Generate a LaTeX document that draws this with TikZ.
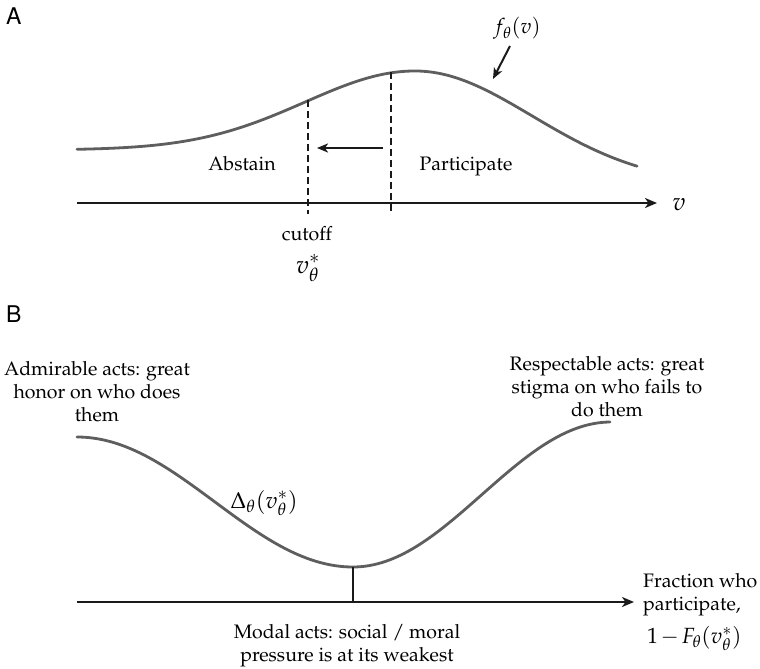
\documentclass[tikz,border=0pt]{standalone}
\usepackage[T1]{fontenc}
\usepackage{mathpazo}
\usepackage[scaled=0.92]{helvet}
\usetikzlibrary{arrows.meta}
\definecolor{curvegray}{HTML}{5E5E5E}
\definecolor{inkblack}{HTML}{1A1A1A}
\tikzset{
  txt/.style={inner sep=0pt, font=\fontsize{19.5}{23}\selectfont},
  mathbig/.style={inner sep=0pt, font=\fontsize{25}{30}\selectfont},
  mathmid/.style={inner sep=0pt, font=\fontsize{21}{25}\selectfont},
  panel/.style={inner sep=0pt, font=\fontsize{25}{30}\sffamily\selectfont},
  axis/.style={draw=inkblack, line width=2.2pt, -{Stealth[length=12pt,width=10pt,inset=3.5pt]}},
  curve/.style={draw=curvegray, line width=2.8pt, line cap=round},
  cutline/.style={draw=inkblack, line width=1.6pt, dash pattern=on 7pt off 4pt},
  pointer/.style={draw=inkblack, line width=2pt, -{Stealth[length=11pt,width=9pt,inset=3pt]}},
}
\begin{document}
\begin{tikzpicture}[x=1pt,y=-1pt]
\useasboundingbox (0,0) rectangle (760,669);
% ---------- Panel A ----------
\node[panel, anchor=base west] (labA) at (6,25) {A};
\coordinate (axAstart) at (77,203);
\coordinate (axAend) at (657,203);
\draw[axis] (axAstart) -- (axAend);
\node[mathbig, anchor=base] (vlab) at (679,210) {$v$};
\draw[curve] plot[domain=77:415, samples=90, smooth] (\x, {150-79*exp(-((\x-415)/110)^2/2)})
  -- plot[domain=415:637, samples=60, smooth] (\x, {185-114*exp(-((\x-415)/117)^2/2)});
\coordinate (cutTop) at (308,100);
\coordinate (cutBot) at (308,214);
\coordinate (oldTop) at (391,72);
\coordinate (oldBot) at (391,214);
\draw[cutline] (cutTop) -- (cutBot);
\draw[cutline] (oldTop) -- (oldBot);
\coordinate (shiftFrom) at (383,148);
\coordinate (shiftTo) at (317,148);
\draw[pointer] (shiftFrom) -- (shiftTo);
\node[txt, anchor=base] (abstain) at (242,170) {Abstain};
\node[txt, anchor=base] (particip) at (466,170) {Participate};
\node[txt, anchor=base] (cutoff) at (307,240) {cutoff};
\node[mathbig, anchor=base] (vstar) at (308,273) {$v^*_\theta$};
\node[mathmid, anchor=base] (flab) at (517,34) {$f_\theta(v)$};
\coordinate (fptr) at (493,79);
\draw[pointer] (510,46) -- (fptr);
% ---------- Panel B ----------
\node[panel, anchor=base west] (labB) at (6,322) {B};
\coordinate (axBstart) at (77,602);
\coordinate (axBend) at (634,602);
\draw[axis] (axBstart) -- (axBend);
\draw[curve] plot[domain=77:353, samples=90, smooth] (\x, {437+130*(1-cos((\x-77)/276*180))/2})
  -- plot[domain=353:610, samples=80, smooth] (\x, {567-145*(1-cos((\x-353)/258*180))/2});
\coordinate (minPt) at (353,567);
\coordinate (minBase) at (353,602);
\draw[draw=inkblack, line width=2pt] (minPt) -- (minBase);
\node[mathmid, anchor=base, font=\fontsize{23}{27}\selectfont] (delta) at (264,508) {$\Delta_\theta(v^*_\theta)$};
\node[txt, align=center, anchor=north] (admir) at (97,361) {Admirable acts: great\\honor on who does\\them};
\node[txt, align=center, anchor=north] (respect) at (607,356) {Respectable acts: great\\stigma on who fails to\\do them};
\node[txt, align=left, anchor=north west] (frac) at (643,573) {Fraction who\\participate,};
\node[mathbig, anchor=base west, font=\fontsize{22}{26}\selectfont] (fracmath) at (647,643) {$1\mkern2mu{-}\mkern2mu F_\theta(v^*_\theta)$};
\node[txt, align=center, anchor=north] (modal) at (347,624) {Modal acts: social / moral\\pressure is at its weakest};
\end{tikzpicture}
\end{document}
